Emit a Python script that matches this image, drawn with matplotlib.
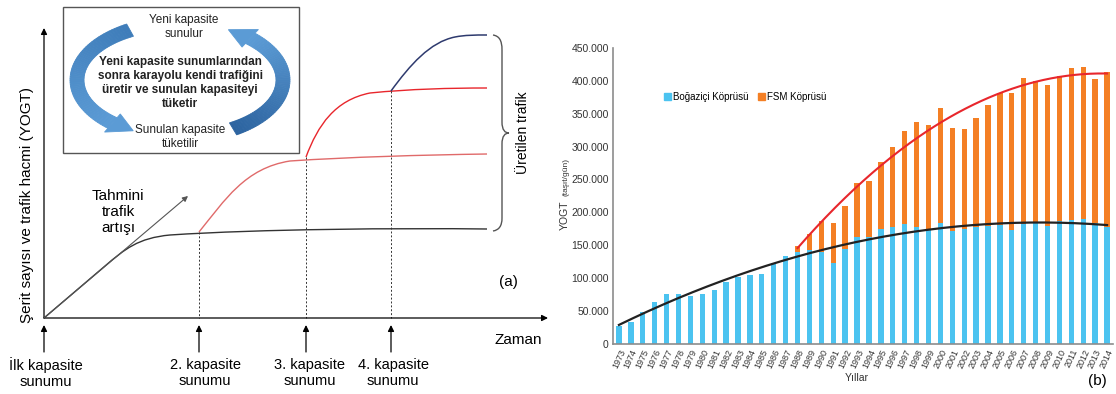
import numpy as np
import matplotlib.pyplot as plt
from matplotlib.path import Path
from matplotlib.patches import PathPatch, Polygon, Rectangle, Patch
from matplotlib.colors import LinearSegmentedColormap

plt.rcParams['font.family'] = ['Liberation Sans', 'DejaVu Sans']

# ------------------------------------------------------------------
#                      Data (b): daily traffic
# ------------------------------------------------------------------

years = list(range(1973, 2015))

bogazici = [27, 33, 48, 64, 76, 75, 72, 76, 82, 94, 102, 104, 106, 123, 133,
            139, 142, 140, 123, 144, 162, 163, 175, 177, 182, 178, 174, 184,
            171, 174, 177, 179, 180, 173, 182, 183, 179, 186, 188, 190, 183, 178]

fsm = [0, 0, 0, 0, 0, 0, 0, 0, 0, 0, 0, 0, 0, 0, 0,
       9, 25, 46, 61, 65, 83, 85, 101, 122, 141, 160, 159, 174, 158, 153,
       166, 185, 202, 209, 222, 217, 214, 221, 231, 231, 220, 236]

fsm_start = 1988
legend_labels = ["Boğaziçi Köprüsü", "FSM Köprüsü"]

# ------------------------------------------------------------------
#                  Schematic (a): capacity offers
# ------------------------------------------------------------------

cap_x = [44, 199, 306, 391]             # offer times (pixels)
cap_label_x = [46, 205, 310, 393]
cap_labels = ["İlk kapasite\nsunumu", "2. kapasite\nsunumu",
              "3. kapasite\nsunumu", "4. kapasite\nsunumu"]
cap_level = [318, 232, 157, 91]         # where each new curve starts

W, H = 1116, 394
fig = plt.figure(figsize=(W / 100, H / 100), dpi=100)

# ------------------------------------------------------------------
#                            Panel (a)
# ------------------------------------------------------------------

ax1 = fig.add_axes([0, 0, 560 / W, 1])
ax1.set_xlim(0, 560)
ax1.set_ylim(H, 0)
ax1.axis('off')


def curve(pts, codes, color, lw):
    ax1.add_patch(PathPatch(Path(pts, codes), fill=False, edgecolor=color, lw=lw))


M, L, C = Path.MOVETO, Path.LINETO, Path.CURVE4

# axes
arr = dict(arrowstyle='-|>', color='black', lw=0.9, mutation_scale=9, shrinkA=0, shrinkB=0)
ax1.annotate('', xy=(44, 28), xytext=(44, 318), arrowprops=arr)
ax1.annotate('', xy=(548, 318), xytext=(44, 318), arrowprops=arr)

# forecast growth
ax1.annotate('', xy=(188, 196), xytext=(44, 318),
             arrowprops=dict(arrowstyle='-|>', color='#555555', lw=0.8,
                             mutation_scale=8, shrinkA=0, shrinkB=0))

# base curve
curve([(44, 318), (105, 266), (125, 249), (138, 238), (170, 235),
       (260, 229), (400, 228), (487, 229)],
      [M, L, C, C, C, C, C, C], '#333333', 1.0)

# 2nd capacity
curve([(199, 232), (225, 200), (245, 168), (290, 161),
       (350, 157), (420, 155), (487, 154)],
      [M, C, C, C, C, C, C], '#E06A6A', 1.0)

# 3rd capacity
curve([(306, 157), (318, 125), (335, 100), (370, 93),
       (410, 89), (450, 88), (487, 88)],
      [M, C, C, C, C, C, C], '#E8262C', 1.0)

# 4th capacity
curve([(391, 91), (410, 65), (430, 42), (455, 37),
       (465, 35), (475, 35), (487, 35)],
      [M, C, C, C, C, C, C], '#2E3A6E', 1.1)

for x, y in zip(cap_x[1:], cap_level[1:]):
    ax1.plot([x, x], [y, 318], color='#333333', lw=0.7, ls=(0, (2, 2)))

for x, lx, lab in zip(cap_x, cap_label_x, cap_labels):
    ax1.annotate('', xy=(x, 325), xytext=(x, 352), arrowprops=arr)
    ax1.text(lx, 373, lab, ha='center', va='center', fontsize=10.5, linespacing=1.15)

ax1.text(118, 212, "Tahmini\ntrafik\nartışı", ha='center', va='center',
         fontsize=11, linespacing=1.15)
ax1.text(518, 340, "Zaman", ha='center', va='center', fontsize=11)
ax1.text(508, 282, "(a)", ha='center', va='center', fontsize=11)
ax1.text(27, 205, "Şerit sayısı ve trafik hacmi (YOGT)", rotation=90,
         ha='center', va='center', fontsize=11)

# brace
curve([(493, 35), (499, 36), (502, 40), (502, 50), (502, 122),
       (502, 130), (505, 133), (509, 133), (505, 133), (502, 136), (502, 144),
       (502, 218), (502, 226), (499, 230), (493, 231)],
      [M, C, C, C, L, C, C, C, C, C, C, L, C, C, C], '#555555', 1.0)
ax1.text(523, 133, "Üretilen trafik", rotation=90, ha='center', va='center', fontsize=10)

# box with cycle arrows
ax1.add_patch(Rectangle((63, 7), 236, 146, fill=False, edgecolor='#555555', lw=1))


def ring_arrow(t0, t1, t_tip, c0, c1, n=60):
    cx, cy, rx, ry = 180, 80, 103, 57
    w, hw = 7, 12
    ts = np.radians(np.linspace(t0, t1, n))
    cmap = LinearSegmentedColormap.from_list('ring', [c0, c1])
    for i in range(n - 1):
        ta, tb = ts[i], ts[i + 1]
        quad = [(cx + (rx + w) * np.cos(ta), cy + (ry + w) * np.sin(ta)),
                (cx + (rx + w) * np.cos(tb), cy + (ry + w) * np.sin(tb)),
                (cx + (rx - w) * np.cos(tb), cy + (ry - w) * np.sin(tb)),
                (cx + (rx - w) * np.cos(ta), cy + (ry - w) * np.sin(ta))]
        col = cmap(i / (n - 2))
        ax1.add_patch(Polygon(quad, closed=True, fc=col, ec=col, lw=0.6))
    tb, tt = ts[-1], np.radians(t_tip)
    head = [(cx + (rx + hw) * np.cos(tb), cy + (ry + hw) * np.sin(tb)),
            (cx + rx * np.cos(tt), cy + ry * np.sin(tt)),
            (cx + (rx - hw) * np.cos(tb), cy + (ry - hw) * np.sin(tb))]
    ax1.add_patch(Polygon(head, closed=True, fc=c1, ec=c1, lw=0.6))


ring_arrow(-119, -229, -243, '#3F7DBA', '#5B9BD5')
ring_arrow(59, -47, -62, '#2D64A0', '#5B9BD5')

ax1.text(184, 27, "Yeni kapasite\nsunulur", ha='center', va='center',
         fontsize=8.5, color='#222222', linespacing=1.2)
ax1.text(180, 83, "Yeni kapasite sunumlarından\nsonra karayolu kendi trafiğini\n"
         "üretir ve sunulan kapasiteyi\ntüketir", ha='center', va='center',
         fontsize=8.5, fontweight='bold', color='#222222', linespacing=1.2)
ax1.text(180, 137, "Sunulan kapasite\ntüketilir", ha='center', va='center',
         fontsize=8.5, color='#222222', linespacing=1.2)

# ------------------------------------------------------------------
#                            Panel (b)
# ------------------------------------------------------------------

ax2 = fig.add_axes([613 / W, 1 - 343.7 / H, 500 / W, (343.7 - 48) / H])

x = np.arange(len(years))
b = np.array(bogazici) * 1000
f = np.array(fsm) * 1000
blue, orange = '#4BC3F0', '#F47F24'

ax2.bar(x, b, width=0.45, color=blue)
ax2.bar(x, f, bottom=b, width=0.45, color=orange)

# trend lines
coef_b = np.polyfit(x, b, 2)
xs = np.linspace(0, x[-1], 200)
ax2.plot(xs, np.polyval(coef_b, xs), color='#222222', lw=1.6)

i0 = years.index(fsm_start)
coef_t = np.polyfit(x[i0:], (b + f)[i0:], 2)
xs2 = np.linspace(i0, x[-1], 200)
ax2.plot(xs2, np.polyval(coef_t, xs2), color='#E8262C', lw=1.5)

ax2.set_xlim(-0.5, len(years) - 0.5)
ax2.set_ylim(0, 450000)
yt = np.arange(0, 450001, 50000)
ax2.set_yticks(yt)
ax2.set_yticklabels(['0' if v == 0 else f"{v:,}".replace(',', '.') for v in yt],
                    fontsize=7.5, color='#333333')
ax2.set_xticks(x)
ax2.set_xticklabels(years, rotation=65, ha='right', rotation_mode='anchor',
                    fontsize=6.5, color='#333333')
ax2.tick_params(length=0, pad=3)
for s in ['top', 'right']:
    ax2.spines[s].set_visible(False)
for s in ['left', 'bottom']:
    ax2.spines[s].set_color('#8C8C8C')
    ax2.spines[s].set_linewidth(1.2)

ax2.legend([Patch(color=blue), Patch(color=orange)], legend_labels,
           loc='center', bbox_to_anchor=(745 / W, 1 - 97 / H),
           bbox_transform=fig.transFigure, ncol=2, frameon=False,
           fontsize=7, handlelength=0.7, handleheight=0.7,
           handletextpad=0.2, columnspacing=1.0)

fig.text(565 / W, 1 - 230 / H, "YOGT", rotation=90, ha='center', va='bottom',
         fontsize=7.5, color='#333333')
fig.text(566 / W, 1 - 196 / H, "(taşıt/gün)", rotation=90, ha='center',
         va='bottom', fontsize=6, color='#333333')
fig.text(857 / W, 1 - 378 / H, "Yıllar", ha='center', va='center',
         fontsize=7.5, color='#333333')
fig.text(1097 / W, 1 - 381 / H, "(b)", ha='center', va='center', fontsize=11)

fig.savefig('out.png', dpi=100)
